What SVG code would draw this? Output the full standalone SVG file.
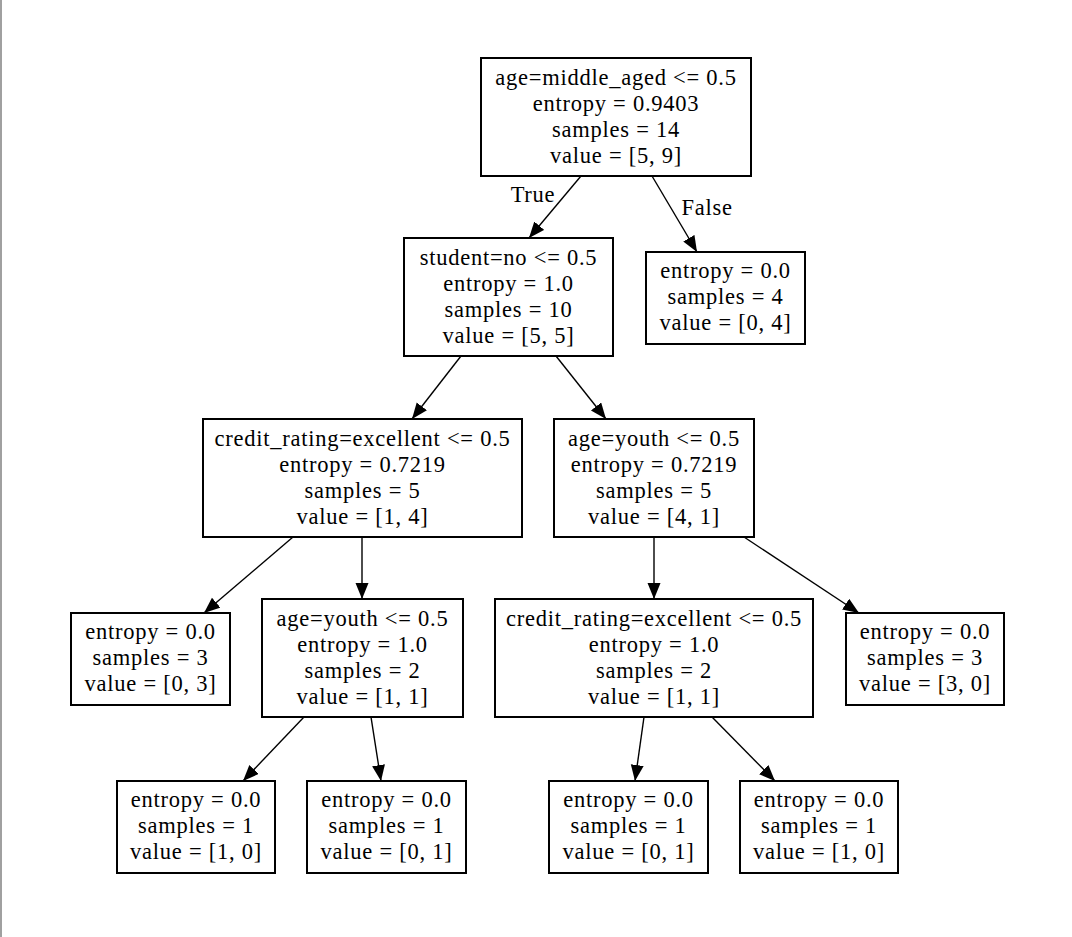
<svg xmlns="http://www.w3.org/2000/svg" width="1072" height="937" viewBox="0 0 1072 937">
<style>
.n rect{fill:#fff;stroke:#000;stroke-width:2}
text{font-family:"Liberation Serif","Times New Roman",serif;font-size:22.5px;letter-spacing:0.75px;fill:#000;text-anchor:middle}
.e line{stroke:#000;stroke-width:1.4}
</style>
<defs>
<marker id="ah" markerUnits="userSpaceOnUse" markerWidth="17" markerHeight="14" refX="16" refY="6.5" orient="auto">
<path d="M0,0 L16,6.5 L0,13 z" fill="#000"/>
</marker>
</defs>
<rect x="0" y="0" width="1072" height="937" fill="#fff"/>
<rect x="0" y="0" width="2" height="937" fill="#a0a0a0"/>
<g class="e">
<line x1="581" y1="176" x2="529" y2="238" marker-end="url(#ah)"/>
<line x1="652" y1="176" x2="697" y2="252" marker-end="url(#ah)"/>
<line x1="461" y1="356" x2="412" y2="419" marker-end="url(#ah)"/>
<line x1="556" y1="356" x2="606" y2="419" marker-end="url(#ah)"/>
<line x1="293" y1="537" x2="204" y2="613" marker-end="url(#ah)"/>
<line x1="362" y1="537" x2="362" y2="599" marker-end="url(#ah)"/>
<line x1="654" y1="537" x2="654" y2="599" marker-end="url(#ah)"/>
<line x1="744" y1="537" x2="859" y2="613" marker-end="url(#ah)"/>
<line x1="304" y1="717" x2="243" y2="781" marker-end="url(#ah)"/>
<line x1="371" y1="717" x2="381" y2="781" marker-end="url(#ah)"/>
<line x1="644" y1="717" x2="635" y2="781" marker-end="url(#ah)"/>
<line x1="712" y1="717" x2="775" y2="781" marker-end="url(#ah)"/>
<text x="533" y="202">True</text>
<text x="707" y="215">False</text>
</g>
<g id="n0" class="n"><rect x="481" y="58" width="270" height="118"/>
<text x="616" y="85">age=middle_aged &lt;= 0.5</text><text x="616" y="111">entropy = 0.9403</text><text x="616" y="137">samples = 14</text><text x="616" y="163">value = [5, 9]</text></g>
<g id="n1" class="n"><rect x="404" y="238" width="209" height="118"/>
<text x="508.5" y="265">student=no &lt;= 0.5</text><text x="508.5" y="291">entropy = 1.0</text><text x="508.5" y="317">samples = 10</text><text x="508.5" y="343">value = [5, 5]</text></g>
<g id="n2" class="n"><rect x="646" y="252" width="159" height="92"/>
<text x="725.5" y="278">entropy = 0.0</text><text x="725.5" y="304">samples = 4</text><text x="725.5" y="330">value = [0, 4]</text></g>
<g id="n3" class="n"><rect x="203" y="419" width="319" height="118"/>
<text x="362.5" y="446">credit_rating=excellent &lt;= 0.5</text><text x="362.5" y="472">entropy = 0.7219</text><text x="362.5" y="498">samples = 5</text><text x="362.5" y="524">value = [1, 4]</text></g>
<g id="n4" class="n"><rect x="554" y="419" width="200" height="118"/>
<text x="654" y="446">age=youth &lt;= 0.5</text><text x="654" y="472">entropy = 0.7219</text><text x="654" y="498">samples = 5</text><text x="654" y="524">value = [4, 1]</text></g>
<g id="n5" class="n"><rect x="71" y="613" width="159" height="92"/>
<text x="150.5" y="639">entropy = 0.0</text><text x="150.5" y="665">samples = 3</text><text x="150.5" y="691">value = [0, 3]</text></g>
<g id="n6" class="n"><rect x="262" y="599" width="201" height="118"/>
<text x="362.5" y="626">age=youth &lt;= 0.5</text><text x="362.5" y="652">entropy = 1.0</text><text x="362.5" y="678">samples = 2</text><text x="362.5" y="704">value = [1, 1]</text></g>
<g id="n7" class="n"><rect x="495" y="599" width="318" height="118"/>
<text x="654" y="626">credit_rating=excellent &lt;= 0.5</text><text x="654" y="652">entropy = 1.0</text><text x="654" y="678">samples = 2</text><text x="654" y="704">value = [1, 1]</text></g>
<g id="n8" class="n"><rect x="846" y="613" width="158" height="92"/>
<text x="925" y="639">entropy = 0.0</text><text x="925" y="665">samples = 3</text><text x="925" y="691">value = [3, 0]</text></g>
<g id="n9" class="n"><rect x="117" y="781" width="158" height="92"/>
<text x="196" y="807">entropy = 0.0</text><text x="196" y="833">samples = 1</text><text x="196" y="859">value = [1, 0]</text></g>
<g id="n10" class="n"><rect x="307" y="781" width="159" height="92"/>
<text x="386.5" y="807">entropy = 0.0</text><text x="386.5" y="833">samples = 1</text><text x="386.5" y="859">value = [0, 1]</text></g>
<g id="n11" class="n"><rect x="549" y="781" width="159" height="92"/>
<text x="628.5" y="807">entropy = 0.0</text><text x="628.5" y="833">samples = 1</text><text x="628.5" y="859">value = [0, 1]</text></g>
<g id="n12" class="n"><rect x="740" y="781" width="158" height="92"/>
<text x="819" y="807">entropy = 0.0</text><text x="819" y="833">samples = 1</text><text x="819" y="859">value = [1, 0]</text></g>
</svg>
